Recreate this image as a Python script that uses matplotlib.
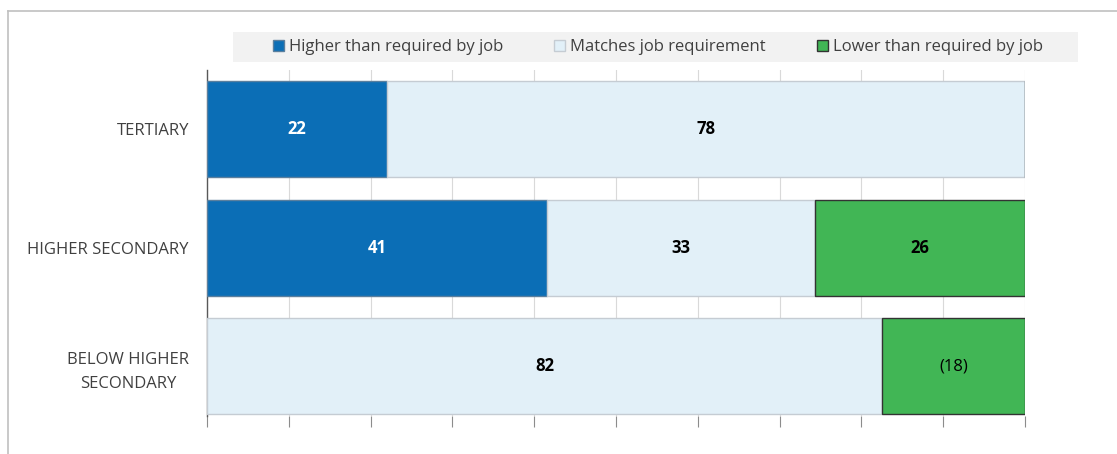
import matplotlib
matplotlib.use("Agg")
import matplotlib.pyplot as plt
from matplotlib.patches import Rectangle
from matplotlib.lines import Line2D
import numpy as np

plt.rcParams['font.family'] = ['Open Sans', 'DejaVu Sans']

categories = ["TERTIARY", "HIGHER SECONDARY", "BELOW HIGHER\nSECONDARY"]
series_names = ["Higher than required by job", "Matches job requirement", "Lower than required by job"]
higher = [22.0, 41.6, 0]
matches = [78.0, 32.7, 82.5]
lower = [0, 25.7, 17.5]
label_text = {
    "higher": ["22", "41", ""],
    "matches": ["78", "33", "82"],
    "lower": ["", "26", "(18)"],
}

colors = ["#0b6eb6", "#e2f0f8", "#41b655"]
edges = ["#5a7f9e", "#c5ccd3", "#333333"]
text_colors = ["white", "black", "black"]

W, H = 1117, 454
fig = plt.figure(figsize=(W / 100, H / 100), dpi=100)
ax = fig.add_axes([207 / W, 1 - 416 / H, (1025 - 207) / W, (416 - 70) / H])

y = np.arange(len(categories))
left = np.zeros(len(categories))
series = [higher, matches, lower]
keys = ["higher", "matches", "lower"]
handles = []
for i, (vals, key) in enumerate(zip(series, keys)):
    vals = np.array(vals, dtype=float)
    bars = ax.barh(y, vals, left=left, height=0.81, color=colors[i],
                   edgecolor=edges[i], linewidth=1.0, zorder=3,
                   label=series_names[i])
    handles.append(bars)
    for j, v in enumerate(vals):
        if v > 0:
            t = label_text[key][j]
            bold = not t.startswith("(")
            ax.text(left[j] + v / 2, y[j], t, ha="center", va="center",
                    color=text_colors[i], fontsize=12,
                    fontweight="bold" if bold else "normal", zorder=4)
    left += vals

ax.set_xlim(0, 100)
ax.set_ylim(2.418, -0.498)
ax.set_xticks(np.arange(0, 101, 10))
ax.set_xticklabels([])
ax.set_yticks(y)
ax.set_yticklabels(categories, fontsize=12, color="#404040",
                   multialignment="center", linespacing=1.6)
ax.tick_params(axis="y", length=0, pad=13)
ax.tick_params(axis="x", length=8, color="#8c8c8c", width=0.8, direction="out")
ax.grid(axis="x", color="#d9d9d9", linewidth=0.8, zorder=0)
for s in ["top", "right", "bottom"]:
    ax.spines[s].set_visible(False)
ax.spines["left"].set_color("#595959")
ax.spines["left"].set_linewidth(1.0)
ax.set_axisbelow(True)

# legend background
fig.patches.append(Rectangle((233 / W, 1 - 62 / H), (1078 - 233) / W, 30 / H,
                             transform=fig.transFigure, facecolor="#f2f2f2",
                             edgecolor="none", zorder=0))
leg = fig.legend(handles=handles, labels=series_names, ncol=3,
                 loc="center", bbox_to_anchor=(658 / W, 1 - 47 / H),
                 frameon=False, fontsize=12, handlelength=0.65, handleheight=0.65,
                 handletextpad=0.3, columnspacing=3.05)
for t in leg.get_texts():
    t.set_color("#404040")

# outer frame
fig.add_artist(Line2D([8 / W, 1], [1 - 11 / H, 1 - 11 / H], transform=fig.transFigure,
                      color="#c0c0c0", linewidth=1.2))
fig.add_artist(Line2D([8 / W, 8 / W], [0, 1 - 11 / H], transform=fig.transFigure,
                      color="#c0c0c0", linewidth=1.2))

fig.savefig("out.png", dpi=100)
